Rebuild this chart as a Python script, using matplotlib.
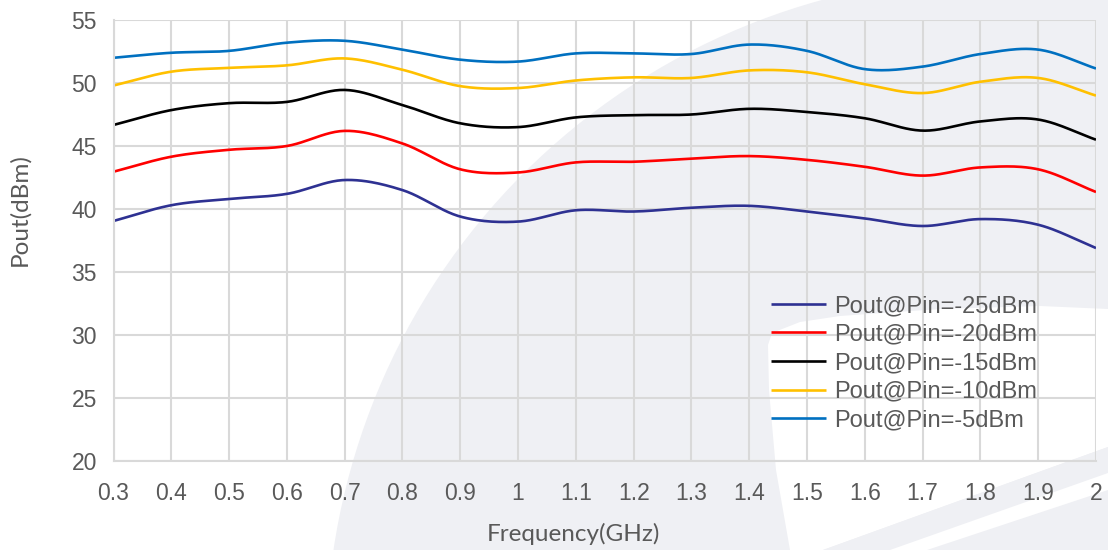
import numpy as np
import matplotlib
matplotlib.use("Agg")
import matplotlib.pyplot as plt
from matplotlib.patches import Circle, Polygon

# --- data ---
freq = [0.3, 0.4, 0.5, 0.6, 0.7, 0.8, 0.9, 1.0, 1.1, 1.2, 1.3, 1.4, 1.5, 1.6, 1.7, 1.8, 1.9, 2.0]
pin_m25 = [39.05, 40.3, 40.8, 41.2, 42.3, 41.5, 39.4, 39.0, 39.9, 39.8, 40.1, 40.25, 39.8, 39.25, 38.65, 39.2, 38.75, 36.9]
pin_m20 = [42.96, 44.15, 44.7, 45.0, 46.2, 45.2, 43.15, 42.9, 43.7, 43.75, 44.0, 44.2, 43.9, 43.35, 42.65, 43.3, 43.15, 41.35]
pin_m15 = [46.67, 47.85, 48.4, 48.5, 49.45, 48.25, 46.8, 46.5, 47.27, 47.45, 47.5, 47.95, 47.7, 47.2, 46.22, 46.95, 47.1, 45.5]
pin_m10 = [49.8, 50.9, 51.2, 51.4, 51.95, 51.05, 49.75, 49.6, 50.2, 50.45, 50.4, 51.0, 50.85, 49.9, 49.2, 50.1, 50.4, 49.0]
pin_m5 = [52.0, 52.4, 52.55, 53.2, 53.35, 52.65, 51.85, 51.7, 52.35, 52.35, 52.3, 53.05, 52.55, 51.1, 51.3, 52.3, 52.65, 51.15]

labels = ["Pout@Pin=-25dBm", "Pout@Pin=-20dBm", "Pout@Pin=-15dBm", "Pout@Pin=-10dBm", "Pout@Pin=-5dBm"]
colors = ["#2e3192", "#ff0000", "#000000", "#ffc000", "#0070c0"]
x_ticks = [0.3, 0.4, 0.5, 0.6, 0.7, 0.8, 0.9, 1.0, 1.1, 1.2, 1.3, 1.4, 1.5, 1.6, 1.7, 1.8, 1.9, 2.0]
x_tick_labels = ["0.3", "0.4", "0.5", "0.6", "0.7", "0.8", "0.9", "1", "1.1", "1.2", "1.3", "1.4", "1.5", "1.6", "1.7", "1.8", "1.9", "2"]
y_ticks = [20, 25, 30, 35, 40, 45, 50, 55]


def smooth(x, y, n=24):
    # catmull-rom curve through the points, like excel's smoothed line
    pts = np.column_stack([x, y])
    P = np.vstack([2 * pts[0] - pts[1], pts, 2 * pts[-1] - pts[-2]])
    t = np.linspace(0, 1, n, endpoint=False)[:, None]
    out = []
    for i in range(1, len(P) - 2):
        p0, p1, p2, p3 = P[i - 1], P[i], P[i + 1], P[i + 2]
        seg = 0.5 * (2 * p1 + (-p0 + p2) * t + (2 * p0 - 5 * p1 + 4 * p2 - p3) * t ** 2
                     + (-p0 + 3 * p1 - 3 * p2 + p3) * t ** 3)
        out.append(seg)
    out.append(pts[-1:])
    s = np.vstack(out)
    return s[:, 0], s[:, 1]


fig = plt.figure(figsize=(11.08, 5.5), dpi=100)

# faint watermark in the background (pixel coordinates)
bg = fig.add_axes([0, 0, 1, 1], zorder=0)
bg.set_xlim(0, 1108)
bg.set_ylim(550, 0)
bg.axis("off")
wm = "#eff0f4"
bg.add_patch(Circle((1000, 650), 674, color=wm, lw=0))
bg.add_patch(Polygon([(772, 333), (800, 322), (840, 316), (940, 309), (1040, 306), (1108, 309),
                      (1108, 447), (823, 550), (790, 550), (776, 470), (769, 390), (768, 345)],
                     closed=True, color="white", lw=0))
bg.add_patch(Polygon([(823, 550), (890, 550), (1108, 473), (1108, 447)],
                     closed=True, color=wm, lw=0))
bg.add_patch(Polygon([(890, 550), (927, 550), (1108, 490), (1108, 473)],
                     closed=True, color="white", lw=0))

ax = fig.add_axes([113.5 / 1108, 89 / 550, (1096 - 113.5) / 1108, 441 / 550], zorder=1)
ax.patch.set_alpha(0)

series = [pin_m25, pin_m20, pin_m15, pin_m10, pin_m5]
for vals, lab, col in zip(series, labels, colors):
    sx, sy = smooth(freq, vals)
    ax.plot(sx, sy, color=col, lw=1.9, label=lab, solid_capstyle="butt")

ax.set_xlim(0.3, 2.0)
ax.set_ylim(20, 55)
ax.set_xticks(x_ticks)
ax.set_xticklabels(x_tick_labels)
ax.set_yticks(y_ticks)
ax.grid(True, color="#d9d9d9", lw=1.5)
ax.set_axisbelow(True)
for side in ["top", "right"]:
    ax.spines[side].set_visible(False)
for side in ["left", "bottom"]:
    ax.spines[side].set_color("#d9d9d9")
    ax.spines[side].set_linewidth(1.5)
ax.tick_params(length=0, labelsize=16.5, colors="#595959", labelcolor="#595959")
ax.tick_params(axis="y", pad=12)
ax.tick_params(axis="x", pad=15)
for t in ax.get_xticklabels() + ax.get_yticklabels():
    t.set_fontfamily("Liberation Sans")

fig.text(573 / 1108, 1 - 534 / 550, "Frequency(GHz)", ha="center", va="center",
         fontsize=17.5, color="#595959", family="Lato")
fig.text(20 / 1108, 1 - 210 / 550, "Pout(dBm)", ha="center", va="center", rotation=90,
         fontsize=17.5, color="#595959", family="Lato")

leg = ax.legend(loc="upper left", bbox_to_anchor=((771 - 113.5) / (1096 - 113.5), 1 - (295 - 20) / 441),
                frameon=False, handlelength=2.33, handletextpad=0.34, labelspacing=0.28,
                borderpad=0, borderaxespad=0,
                prop={"family": "Liberation Sans", "size": 17})
for txt in leg.get_texts():
    txt.set_color("#595959")

fig.savefig("out.png", dpi=100)
